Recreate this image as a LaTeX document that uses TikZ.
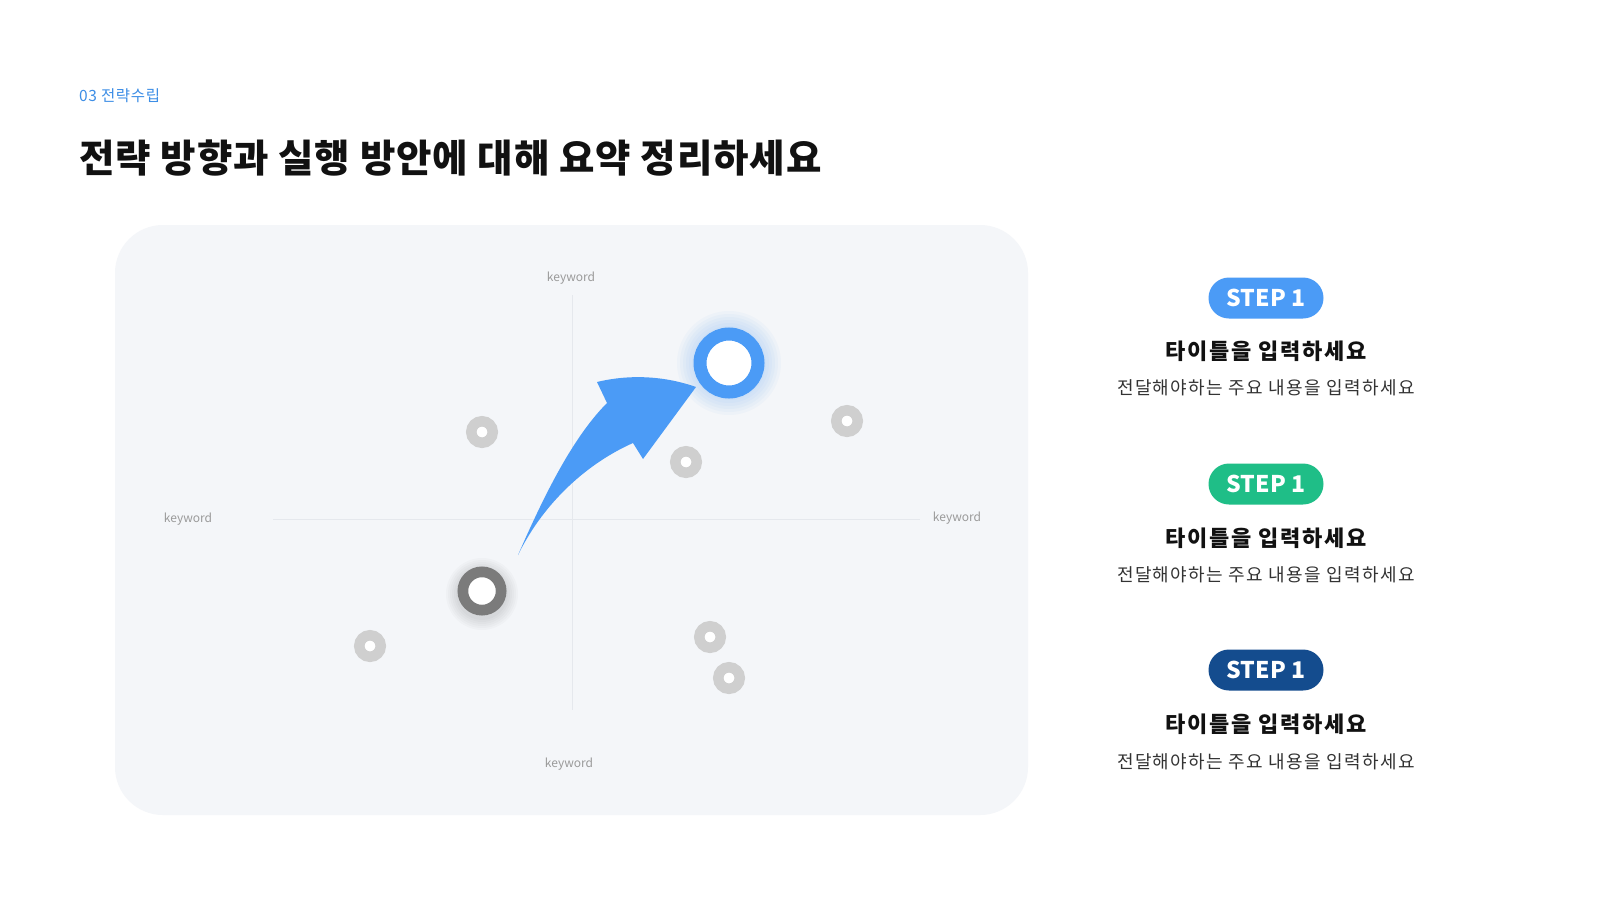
\documentclass[tikz,border=0pt]{standalone}
\usepackage{fontspec}
\setmainfont{Noto Sans CJK KR}
\definecolor{topblue}{HTML}{3D8EE6}
\definecolor{panelbg}{HTML}{F4F6F9}
\definecolor{axisc}{HTML}{E5E8ED}
\definecolor{kwgray}{HTML}{9A9A9A}
\definecolor{ringgray}{HTML}{CFCFCF}
\definecolor{ringdark}{HTML}{7B7B7B}
\definecolor{blueC}{HTML}{4B9BF6}
\definecolor{greenC}{HTML}{1FBE87}
\definecolor{navyC}{HTML}{144C8E}
\definecolor{titleblack}{HTML}{111111}
\definecolor{subgray}{HTML}{333333}
\tikzset{
  kw/.style={font=\fontsize{12}{14}\selectfont, text=kwgray, inner sep=0},
  gring/.style={circle, draw=ringgray, line width=10.5pt, fill=white, minimum size=21.5pt, inner sep=0},
  dring/.style={circle, draw=ringdark, line width=10.7pt, fill=white, minimum size=38.3pt, inner sep=0},
  bring/.style={circle, draw=blueC, line width=13pt, fill=white, minimum size=58pt, inner sep=0},
  badge/.style={rounded corners=20.5pt, minimum width=115pt, minimum height=41pt, inner sep=0, text=white, font=\fontsize{23}{26}\selectfont\bfseries},
  steptitle/.style={anchor=base, inner sep=0, text=titleblack, font=\fontsize{22}{26}\selectfont\bfseries\addfontfeatures{LetterSpace=7.7}},
  stepsub/.style={anchor=base, inner sep=0, text=subgray, font=\fontsize{18}{22}\selectfont\addfontfeatures{LetterSpace=7.7}},
}
\begin{document}
\begin{tikzpicture}[x=1pt,y=-1pt]
\useasboundingbox[fill=white] (0,0) rectangle (1600,900);
% header
\node[anchor=base west, inner sep=0, text=topblue, font=\fontsize{15.5}{18}\selectfont\addfontfeatures{LetterSpace=4}] (sec) at (79,101) {03 전략수립};
\node[anchor=base west, inner sep=0, text=titleblack, font=\fontsize{38.5}{42}\selectfont\bfseries\addfontfeatures{LetterSpace=2.4}] (title) at (79,172) {전략 방향과 실행 방안에 대해 요약 정리하세요};
% panel
\fill[panelbg, rounded corners=48pt] (115,225) rectangle (1028,815);
% axes
\coordinate (vt) at (572,295);
\coordinate (vb) at (572,710);
\coordinate (hl) at (273,519);
\coordinate (hr) at (920,519);
\draw[axisc, line width=1pt] (vt) -- (vb);
\draw[axisc, line width=1pt] (hl) -- (hr);
\node[kw] (kwt) at (571,278) {keyword};
\node[kw] (kwb) at (569,764) {keyword};
\node[kw] (kwl) at (188,519) {keyword};
\node[kw] (kwr) at (957,518) {keyword};
% gray rings
\node[gring] (g1) at (482,432) {};
\node[gring] (g2) at (847,421) {};
\node[gring] (g3) at (686,462) {};
\node[gring] (g4) at (370,646) {};
\node[gring] (g5) at (710,637) {};
\node[gring] (g6) at (729,678) {};
% dark ring with soft shadow
\coordinate (dpos) at (482,591);
\foreach \r in {36,34,...,25} \fill[black, opacity=0.018] ([yshift=-3pt]dpos) circle (\r pt);
\node[dring] (d) at (dpos) {};
% blue ring with glow
\coordinate (bpos) at (729,363);
\foreach \r in {52,49,...,36} \fill[blueC, opacity=0.04] (bpos) circle (\r pt);
\node[bring] (b) at (bpos) {};
% arrow
\coordinate (T) at (518,555);
\coordinate (LN) at (607,403);
\coordinate (LB) at (597,382);
\coordinate (H) at (696,387);
\coordinate (RB) at (643,459);
\coordinate (RN) at (633,443);
\fill[blueC] (T) .. controls (540,505) and (570,440) .. (LN) -- (LB)
  .. controls (630,374) and (665,376) .. (H) -- (RB) -- (RN)
  .. controls (590,462) and (545,500) .. (T) -- cycle;
% steps
\node[badge, fill=blueC] (s1) at (1266,298) {STEP 1};
\node[steptitle] (t1) at (1266,359.5) {타이틀을 입력하세요};
\node[stepsub] (u1) at (1266,394) {전달해야하는 주요 내용을 입력하세요};
\node[badge, fill=greenC] (s2) at (1266,484) {STEP 1};
\node[steptitle] (t2) at (1266,546) {타이틀을 입력하세요};
\node[stepsub] (u2) at (1266,581) {전달해야하는 주요 내용을 입력하세요};
\node[badge, fill=navyC] (s3) at (1266,670) {STEP 1};
\node[steptitle] (t3) at (1266,732.5) {타이틀을 입력하세요};
\node[stepsub] (u3) at (1266,768) {전달해야하는 주요 내용을 입력하세요};
\end{tikzpicture}
\end{document}
